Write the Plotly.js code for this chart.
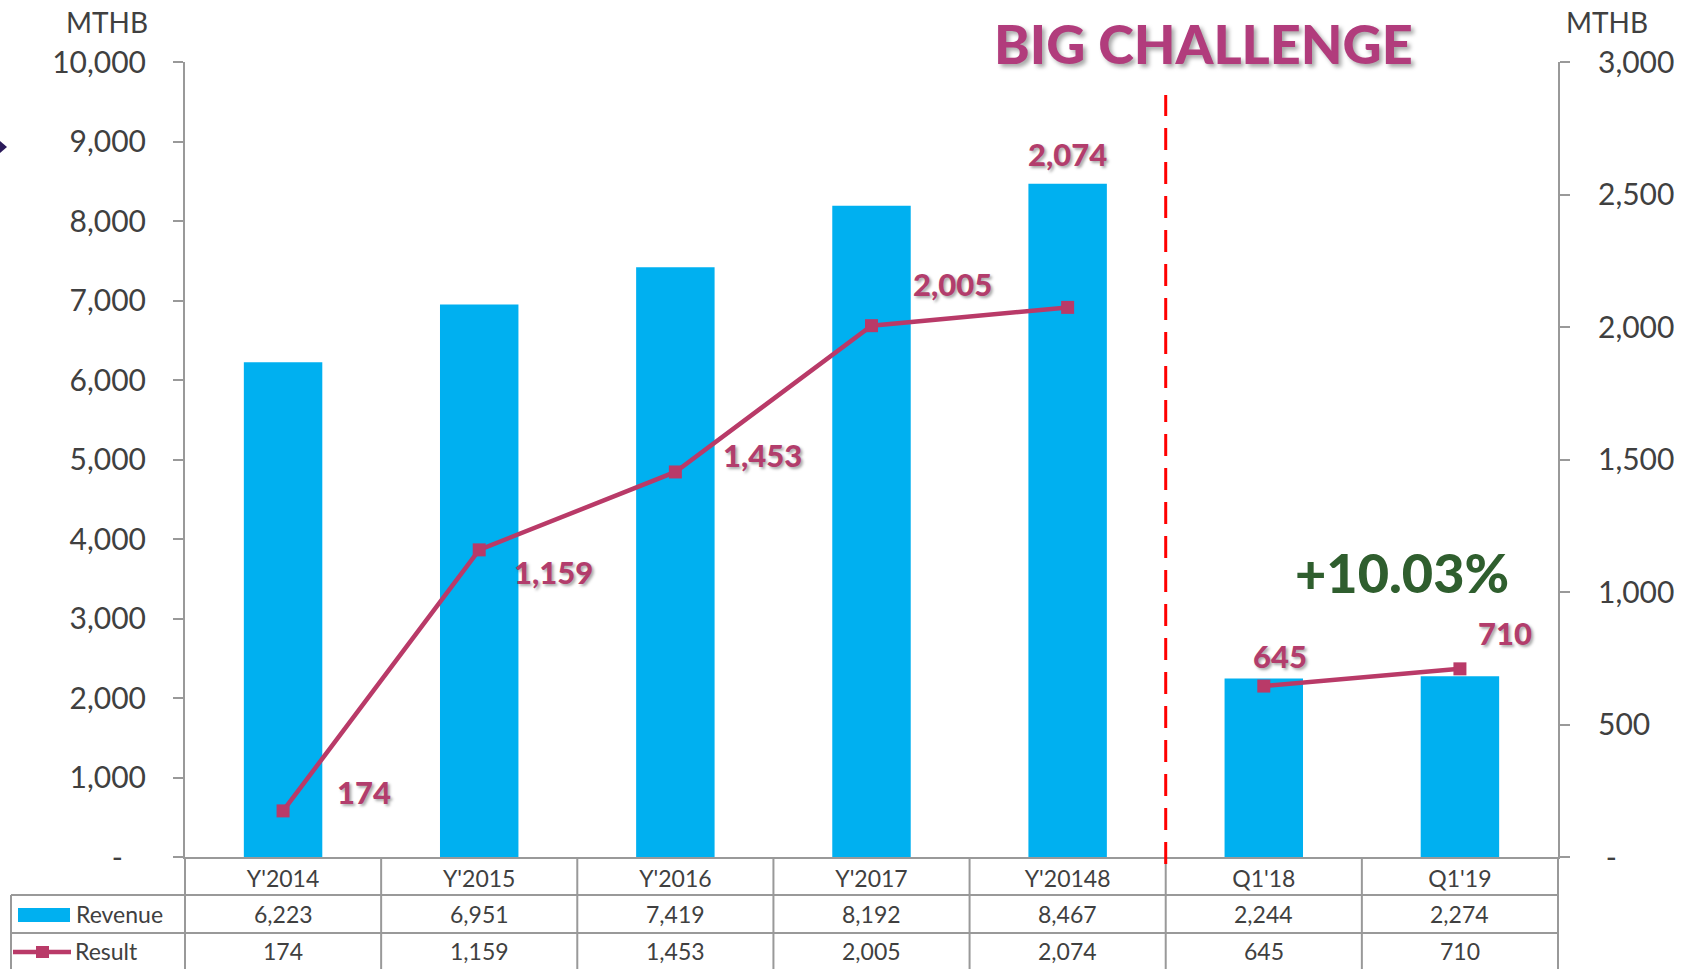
<!DOCTYPE html>
<html><head><meta charset="utf-8">
<script src="https://cdn.plot.ly/plotly-3.0.1.min.js"></script>
<style>html,body{margin:0;padding:0;background:#fff;}#chart{width:1691px;height:969px;}</style>
</head><body><div id="chart"></div>
<script>
const categories = ["Y'2014","Y'2015","Y'2016","Y'2017","Y'20148","Q1'18","Q1'19"];
const revenue = [6223, 6951, 7419, 8192, 8467, 2244, 2274];
const result = [174, 1159, 1453, 2005, 2074, 645, 710];
const leftTicks = [0,1000,2000,3000,4000,5000,6000,7000,8000,9000,10000];
const rightTicks = [0,500,1000,1500,2000,2500,3000];
// the result line is broken between the yearly and the quarterly part
const yearlyCount = 5;
// label offsets (px) for the result data labels
const labelShift = [[81,19],[74,-22],[87,17],[81,42],[0,153],[16,30],[45,36]];

const FONT = "Lato, 'Open Sans', sans-serif";
const fmt = v => v === 0 ? "-" : v.toLocaleString("en-US");
const lineColor = "#B93A68";
const labelColor = "#B23D6C";
const gridColor = "#999999";

const lineStyle = {line:{color:lineColor, width:4.5}, marker:{symbol:"square", size:13, color:lineColor}};
const traces = [
  {type:"bar", x:categories, y:revenue, name:"Revenue", marker:{color:"#00B0F0"}, hoverinfo:"skip"},
  Object.assign({type:"scatter", mode:"lines+markers", x:categories.slice(0,yearlyCount), y:result.slice(0,yearlyCount), yaxis:"y2", name:"Result"}, lineStyle),
  Object.assign({type:"scatter", mode:"lines+markers", x:categories.slice(yearlyCount), y:result.slice(yearlyCount), yaxis:"y2", name:"Result (Q)"}, lineStyle)
];

const plotH = 969 - 62 - 112;
const py = px => (857 - px) / plotH;   // page pixel y -> paper y
const pxX = px => (px - 185) / (1691 - 185 - 133);

const shapes = [];
const L = (x0,y0,x1,y1) => shapes.push({type:"line", xref:"paper", yref:"paper", x0, y0, x1, y1, line:{color:gridColor, width:2}});
L(pxX(11), py(895), 1, py(895));
L(pxX(11), py(933), 1, py(933));
L(0, 0, 0, py(969));
L(1, 0, 1, py(969));
L(pxX(11), py(895), pxX(11), py(969));
for (let i = 0; i < categories.length - 1; i++) {
  shapes.push({type:"line", xref:"x", yref:"paper", x0:i+0.5, x1:i+0.5, y0:0, y1:py(969), line:{color:gridColor, width:2}});
}
shapes.push({type:"line", xref:"x", yref:"paper", x0:yearlyCount-0.5, x1:yearlyCount-0.5, y0:py(864), y1:py(95), line:{color:"#FF0000", width:3, dash:"22px,12px"}});
shapes.push({type:"rect", xref:"paper", yref:"paper", x0:pxX(18), x1:pxX(70), y0:py(922), y1:py(908), line:{width:0}, fillcolor:"#00B0F0"});
shapes.push({type:"line", xref:"paper", yref:"paper", x0:pxX(13), x1:pxX(71), y0:py(952), y1:py(952), line:{color:lineColor, width:4.5}});
shapes.push({type:"rect", xref:"paper", yref:"paper", x0:pxX(36), x1:pxX(49), y0:py(958), y1:py(946), line:{width:0}, fillcolor:lineColor});
shapes.push({type:"path", xref:"paper", yref:"paper", path:`M ${pxX(0)},${py(141)} L ${pxX(7)},${py(147)} L ${pxX(0)},${py(153)} Z`, fillcolor:"#2B1A5A", line:{width:0}});

const annotations = [];
const A = o => annotations.push(Object.assign({showarrow:false, xanchor:"center", yanchor:"middle"}, o));
const shadow = "2px 2px 3px rgba(0,0,0,0.35)";
const tfont = {family:FONT, size:23, color:"#404040"};
categories.forEach((c,i) => {
  A({x:c, xref:"x", y:py(914), yref:"paper", text:fmt(revenue[i]), font:tfont});
  A({x:c, xref:"x", y:py(951), yref:"paper", text:fmt(result[i]), font:tfont});
  A({x:c, xref:"x", y:result[i], yref:"y2", text:fmt(result[i]),
    xshift:labelShift[i][0], yshift:labelShift[i][1],
    font:{family:FONT, size:31, color:labelColor, weight:900, shadow:shadow}});
});
A({xref:"paper", yref:"paper", x:pxX(74), y:py(914), xanchor:"left", text:"Revenue", font:tfont});
A({xref:"paper", yref:"paper", x:pxX(73), y:py(951), xanchor:"left", text:"Result", font:tfont});
A({xref:"paper", yref:"paper", x:pxX(107), y:py(22), text:"MTHB", font:{family:FONT, size:28, color:"#404040"}});
A({xref:"paper", yref:"paper", x:pxX(1607), y:py(22), text:"MTHB", font:{family:FONT, size:28, color:"#404040"}});
A({xref:"paper", yref:"paper", x:pxX(1203), y:py(43), text:"BIG CHALLENGE", font:{family:FONT, size:54, color:"#B13C7C", weight:900, shadow:"3px 3px 4px rgba(0,0,0,0.35)"}});
A({xref:"paper", yref:"paper", x:pxX(1402), y:py(572), text:"+10.03%", font:{family:FONT, size:54, color:"#2F5E2E", weight:900}});

const layout = {
  width:1691, height:969,
  margin:{l:185, r:133, t:62, b:112, pad:0},
  paper_bgcolor:"#fff", plot_bgcolor:"#fff",
  showlegend:false, bargap:0.6,
  font:{family:FONT, color:"#404040"},
  xaxis:{type:"category", categoryarray:categories, categoryorder:"array", showgrid:false, showline:true, linecolor:gridColor, linewidth:2,
         ticks:"", tickfont:{size:23, color:"#404040", family:FONT}, ticklabelstandoff:0, zeroline:false},
  yaxis:{range:[0,10000], showgrid:false, zeroline:false, showline:true, linecolor:gridColor, linewidth:2,
         ticks:"outside", ticklen:10, tickcolor:gridColor, tickwidth:2, ticklabelstandoff:21,
         tickvals:leftTicks, ticktext:leftTicks.map(v => v === 0 ? "-\u00a0\u00a0\u00a0" : fmt(v)),
         tickfont:{size:30, color:"#404040", family:FONT}},
  yaxis2:{range:[0,3000], overlaying:"y", side:"right", showgrid:false, zeroline:false, showline:true,
          linecolor:gridColor, linewidth:2, ticks:"outside", ticklen:10, tickcolor:gridColor, tickwidth:2,
          ticklabelstandoff:22, tickvals:rightTicks, ticktext:rightTicks.map(v => v === 0 ? "\u00a0-" : fmt(v)),
          tickfont:{size:30, color:"#404040", family:FONT}},
  shapes, annotations
};
Plotly.newPlot("chart", traces, layout, {displayModeBar:false, staticPlot:true});
</script></body></html>
